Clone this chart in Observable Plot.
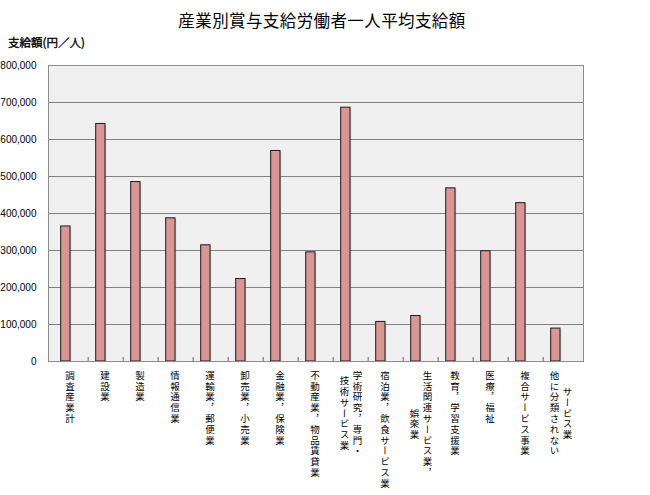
<!DOCTYPE html>
<html><head><meta charset="utf-8">
<script src="https://cdn.jsdelivr.net/npm/d3@7"></script>
<script src="https://cdn.jsdelivr.net/npm/@observablehq/plot@0.6"></script>
<style>
body{margin:0;background:#fff;font-family:"Noto Sans CJK JP",sans-serif;}
#wrap{position:relative;width:650px;}
#head{position:relative;height:55px;}
#title{position:absolute;left:0;width:644px;top:8px;line-height:24px;text-align:center;font-size:16.5px;letter-spacing:0.4px;color:#000;}
#sub{position:absolute;left:8px;top:34px;line-height:16px;font-size:11.5px;font-weight:400;color:#000;-webkit-text-stroke:0.35px #000;}
#chart svg{display:block;}
</style></head>
<body><div id="wrap"><div id="head"><div id="title"></div><div id="sub"></div></div><div id="chart"></div></div>
<script>
const title = "産業別賞与支給労働者一人平均支給額";
const subtitle = "支給額(円／人)";
const categories = ["調査産業計","建設業","製造業","情報通信業","運輸業，郵便業","卸売業，小売業","金融業，保険業","不動産業，物品賃貸業","学術研究，専門・技術サービス業","宿泊業，飲食サービス業","生活関連サービス業，娯楽業","教育，学習支援業","医療，福祉","複合サービス事業","サービス業（他に分類されないもの）"];
const values = [365000, 642000, 485000, 387000, 314000, 223000, 569000, 295000, 686000, 107000, 123000, 468000, 298000, 428000, 89000];
const labelLines = [["調査産業計"],["建設業"],["製造業"],["情報通信業"],["運輸業，郵便業"],["卸売業，小売業"],["金融業，保険業"],["不動産業，物品賃貸業"],["学術研究，専門・","技術サービス業"],["宿泊業，飲食サービス業"],["生活関連サービス業，","娯楽業"],["教育，学習支援業"],["医療，福祉"],["複合サービス事業"],["サービス業","他に分類されない"]];
const yTicks = [0,100000,200000,300000,400000,500000,600000,700000,800000];

document.getElementById("title").textContent = title;
document.getElementById("sub").textContent = subtitle;

const rows = categories.map((c,i)=>({category:c, value:values[i]}));
const W = 650, H = 440, mL = 48, mR = 67, mT = 10, mB = 134;
const bw = (W - mL - mR) / categories.length;
const frameH = H - mT - mB;
const pitch = 10.8;

const labelMarks = [];
labelLines.forEach((lines, i) => {
  const maxLen = d3.max(lines, l => l.length);
  lines.forEach((line, j) => {
    const dx = lines.length === 1 ? -1 : (j === 0 ? 6.5 : -6.5);
    labelMarks.push(Plot.text([categories[i]], {
      x: d => d, text: () => line, frameAnchor: "bottom",
      dx, dy: 9 + maxLen * pitch / 2,
      textAnchor: "middle", fontSize: 9.5, fill: "#000",
      fontFamily: "Noto Sans CJK JP, sans-serif",
      ariaDescription: "xlabels"
    }));
  });
});

const chart = Plot.plot({
  width: W, height: H,
  marginLeft: mL, marginRight: mR, marginTop: mT, marginBottom: mB,
  style: {fontFamily: "Liberation Sans, Arial, sans-serif", fontSize: "10px", background: "#fff", color: "#000"},
  x: {type: "band", domain: categories, padding: 0, axis: null},
  y: {domain: [0, 800000], axis: null},
  marks: [
    Plot.frame({fill: "#f0f0f0", stroke: null}),
    Plot.gridY(yTicks, {stroke: "#808080", strokeOpacity: 1, strokeWidth: 1}),
    Plot.ruleX(categories.slice(1), {x: d => d, dx: -bw/2, insetTop: frameH - 4, stroke: "#666"}),
    Plot.barY(rows, {x: "category", y: "value", dx: 1.2, dy: 1.2, insetLeft: 7.7, insetRight: 18, fill: "#aaa", fillOpacity: 0.6}),
    Plot.barY(rows, {x: "category", y: "value", insetLeft: 7.7, insetRight: 18, fill: "#d99694", stroke: "#1a1a1a", strokeWidth: 1}),
    Plot.frame({stroke: "#8c8c8c"}),
    Plot.axisY(yTicks, {tickFormat: d3.format(","), tickSize: 0, tickPadding: 12, label: null, fontSize: 10}),
    ...labelMarks
  ]
});
d3.select(chart).selectAll('g[aria-description="xlabels"] text')
  .attr("writing-mode", "vertical-rl").attr("dy", null)
  .style("letter-spacing", "1.3px");
document.getElementById("chart").appendChild(chart);
</script>
</body></html>
